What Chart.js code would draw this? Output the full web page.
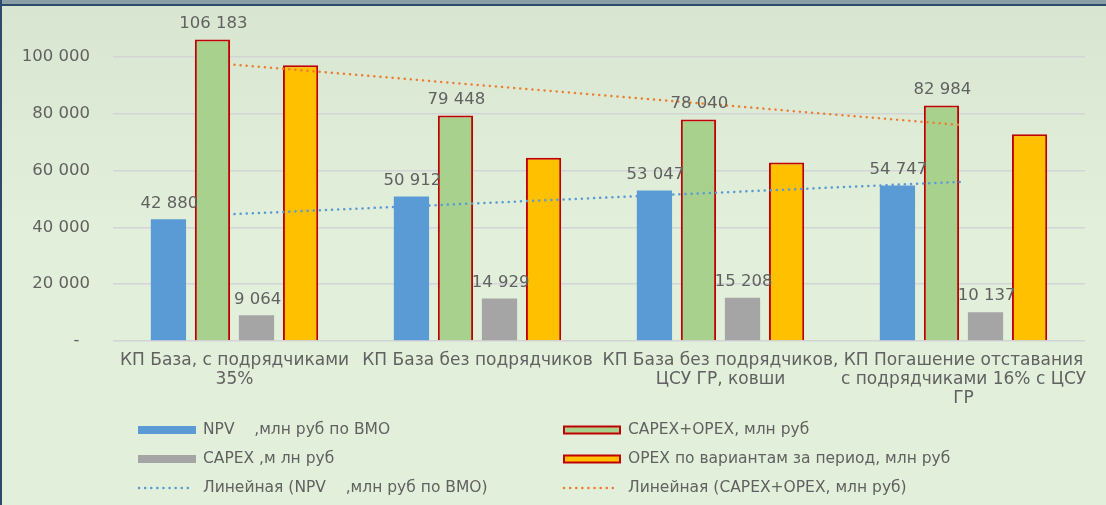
<!DOCTYPE html>
<html lang="ru">
  <head>
    <meta charset="UTF-8" />
    <title>КП варианты</title>
    <script src="https://cdn.jsdelivr.net/npm/chart.js"></script>
    <style>
      body { margin: 0; }
      .frame {
        position: absolute; left: 0; top: 0; width: 1106px; height: 505px;
        background: linear-gradient(#d8e6d1, #e2efda 45%);
        overflow: hidden;
      }
      .topbar { position: absolute; left: 0; top: 0; width: 100%; height: 4px; background: #8a9ea5; border-bottom: 2px solid #2e4a6b; }
      .leftbar { position: absolute; left: 0; top: 0; width: 2px; height: 100%; background: #2e4a6b; }
      canvas { position: absolute; left: 0; top: 0; }
    </style>
  </head>
  <body>
    <div class="frame">
      <canvas id="chart" width="1106" height="505"></canvas>
      <div class="topbar"></div>
      <div class="leftbar"></div>
    </div>

    <script>
      // categories and values
      const categories = [
        ["КП База, с подрядчиками", "35%"],
        ["КП База без подрядчиков"],
        ["КП База без подрядчиков,", "ЦСУ ГР, ковши"],
        ["КП Погашение отставания", "с подрядчиками 16% с ЦСУ", "ГР"],
      ];
      const npv = [42880, 50912, 53047, 54747];
      const capexOpex = [106183, 79448, 78040, 82984];
      const capex = [9064, 14929, 15208, 10137];
      const opex = [97119, 64519, 62832, 72847];
      // trendline ends (first and last category)
      const trendNpv = [44700, null, null, 56100];
      const trendTotal = [97300, null, null, 76000];
      const yTicks = [0, 20000, 40000, 60000, 80000, 100000];

      const textColor = "#616161";
      const fontFamily = "'DejaVu Sans', sans-serif";

      function fmt(v) {
        return String(Math.round(v)).replace(/\B(?=(\d{3})+(?!\d))/g, " ");
      }

      // value labels above the bars
      const valueLabels = {
        id: "valueLabels",
        afterDatasetsDraw(chart) {
          const ctx = chart.ctx;
          ctx.save();
          ctx.font = "16.5px " + fontFamily;
          ctx.fillStyle = textColor;
          ctx.textAlign = "center";
          ctx.textBaseline = "middle";
          chart.data.datasets.forEach((ds, i) => {
            if (!ds.showValues) return;
            chart.getDatasetMeta(i).data.forEach((bar, j) => {
              ctx.fillText(fmt(ds.data[j]), bar.x + 1, bar.y - 16);
            });
          });
          ctx.restore();
        },
      };

      // two-column legend below the axis
      const gridLegend = {
        id: "gridLegend",
        afterDraw(chart) {
          const ctx = chart.ctx;
          const rows = [430, 459, 488];
          ctx.save();
          ctx.font = "15.5px " + fontFamily;
          ctx.textBaseline = "middle";
          chart.data.datasets.forEach((ds, i) => {
            const x0 = i % 2 ? 563 : 138;
            const y = rows[Math.floor(i / 2)];
            if (ds.type === "line") {
              ctx.strokeStyle = ds.borderColor;
              ctx.lineWidth = ds.borderWidth;
              ctx.lineCap = "round";
              ctx.setLineDash(ds.borderDash);
              ctx.beginPath();
              ctx.moveTo(x0 + 1, y);
              ctx.lineTo(x0 + 55, y);
              ctx.stroke();
              ctx.setLineDash([]);
            } else {
              ctx.fillStyle = ds.backgroundColor;
              ctx.fillRect(x0, y - 4, 58, 8);
              if (ds.borderWidth) {
                ctx.strokeStyle = ds.borderColor;
                ctx.lineWidth = ds.borderWidth;
                ctx.strokeRect(x0 + 1, y - 3.5, 56, 7);
              }
            }
            ctx.fillStyle = textColor;
            ctx.fillText(ds.label, x0 + 65, y);
          });
          ctx.restore();
        },
      };

      new Chart(document.getElementById("chart"), {
        type: "bar",
        data: {
          labels: categories,
          datasets: [
            { label: "NPV    ,млн руб по ВМО", data: npv, backgroundColor: "#5b9bd5", order: 1, showValues: true },
            { label: "CAPEX+OPEX, млн руб", data: capexOpex, backgroundColor: "#a9d18e", borderColor: "#c00000", borderWidth: 2, order: 1, showValues: true },
            { label: "CAPEX ,м лн руб", data: capex, backgroundColor: "#a5a5a5", order: 1, showValues: true },
            { label: "OPEX по вариантам за период, млн руб", data: opex, backgroundColor: "#ffc000", borderColor: "#c00000", borderWidth: 2, order: 1 },
            { type: "line", label: "Линейная (NPV    ,млн руб по ВМО)", data: trendNpv, borderColor: "#5b9bd5", borderWidth: 2.5, borderDash: [0.1, 6], borderCapStyle: "round", pointRadius: 0, spanGaps: true, order: 0 },
            { type: "line", label: "Линейная (CAPEX+OPEX, млн руб)", data: trendTotal, borderColor: "#ed7d31", borderWidth: 2.5, borderDash: [0.1, 6], borderCapStyle: "round", pointRadius: 0, spanGaps: true, order: 0 },
          ],
        },
        options: {
          responsive: false,
          devicePixelRatio: 1,
          animation: false,
          categoryPercentage: 0.725,
          barPercentage: 0.8,
          layout: { padding: { left: 0, right: 21, top: 23, bottom: 0 } },
          plugins: { legend: { display: false }, tooltip: { enabled: false } },
          scales: {
            x: {
              grid: { display: false },
              border: { display: false },
              ticks: { color: textColor, font: { family: fontFamily, size: 17, lineHeight: 1.12 }, padding: 2, maxRotation: 0, autoSkip: false },
              afterFit(scale) { scale.height = 164; },
            },
            y: {
              min: 0,
              max: 112000,
              border: { display: false },
              grid: { color: "#d3d4d8", lineWidth: 1.5, drawTicks: false },
              ticks: {
                color: textColor,
                font: { family: fontFamily, size: 16.5 },
                padding: 23,
                callback: (v) => (v === 0 ? "-  " : fmt(v)),
              },
              afterBuildTicks(scale) { scale.ticks = yTicks.map((v) => ({ value: v })); },
              afterFit(scale) {
                scale.width = 113;
                scale.paddingTop = 0;
                scale.paddingBottom = 0;
              },
            },
          },
        },
        plugins: [valueLabels, gridLegend],
      });
    </script>
  </body>
</html>
